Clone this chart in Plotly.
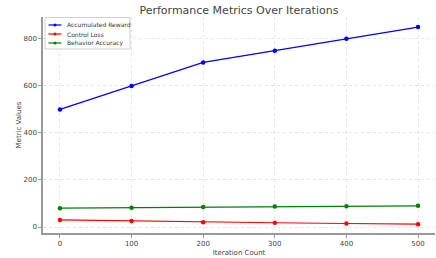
import plotly.graph_objects as go

iterations = [0, 100, 200, 300, 400, 500]
accumulated_reward = [500, 600, 700, 750, 800, 850]
control_loss = [30, 25, 20, 18, 15, 12]
behavior_accuracy = [80, 82, 85, 87, 88, 90]
y_ticks = [0, 200, 400, 600, 800]

series = [
    ("Accumulated Reward", accumulated_reward, "blue"),
    ("Control Loss", control_loss, "red"),
    ("Behavior Accuracy", behavior_accuracy, "green"),
]

W, H = 436, 258
L, R, T, B = 43, 1, 17, 25
pw, ph = W - L - R, H - T - B

def px(x):
    return (x - L) / pw

def py(y):
    return 1 - (y - T) / ph

fig = go.Figure()
for name, vals, col in series:
    fig.add_trace(go.Scatter(x=iterations, y=vals, name=name, mode="lines+markers",
                             line=dict(color=col, width=1.2),
                             marker=dict(color=col, size=4.5), showlegend=False))

# custom compact legend (matplotlib-like)
shapes = [dict(type="rect", xref="paper", yref="paper", x0=px(45), x1=px(130),
               y0=py(49), y1=py(17.5), line=dict(color="#d0d0d0", width=1),
               fillcolor="rgba(255,255,255,0.85)", layer="above")]
annotations = []
for i, (name, vals, col) in enumerate(series):
    yy = 25 + i * 9
    shapes.append(dict(type="line", xref="paper", yref="paper", x0=px(48.5), x1=px(61.5),
                       y0=py(yy), y1=py(yy), line=dict(color=col, width=1.2), layer="above"))
    shapes.append(dict(type="circle", xref="paper", yref="paper", x0=px(53.5), x1=px(56.5),
                       y0=py(yy + 1.5), y1=py(yy - 1.5), line=dict(color=col, width=0),
                       fillcolor=col, layer="above"))
    annotations.append(dict(xref="paper", yref="paper", x=px(64.5), y=py(yy), text=name,
                            showarrow=False, xanchor="left", yanchor="middle",
                            font=dict(size=6, color="#333")))

fig.update_layout(
    width=W, height=H,
    margin=dict(l=L, r=R, t=T, b=B),
    paper_bgcolor="white", plot_bgcolor="white",
    font=dict(family="DejaVu Sans", color="#444", size=7),
    title=dict(text="Performance Metrics Over Iterations", x=0.548, xanchor="center",
               y=(H - 10) / H, yanchor="middle", font=dict(size=11, color="#444")),
    showlegend=False,
    shapes=shapes, annotations=annotations,
)
fig.update_xaxes(range=[-23.7, 523.7], tickvals=iterations, showline=True,
                 linecolor="#999", linewidth=1.5, ticks="outside", ticklen=3,
                 tickcolor="#999", showgrid=True, gridcolor="#e6e6e6", griddash="dot",
                 zeroline=False, title=dict(text="Iteration Count", standoff=3,
                 font=dict(size=7)), tickfont=dict(size=7))
fig.update_yaxes(range=[-25.5, 893], tickvals=y_ticks, showline=True,
                 linecolor="#999", linewidth=1.5, ticks="outside", ticklen=3,
                 tickcolor="#999", showgrid=True, gridcolor="#e6e6e6", griddash="dot",
                 zeroline=False, title=dict(text="Metric Values", standoff=1,
                 font=dict(size=7)), tickfont=dict(size=7))

fig.write_html("out.html", config={"displayModeBar": False},
               post_script="document.body.style.margin='0';")
